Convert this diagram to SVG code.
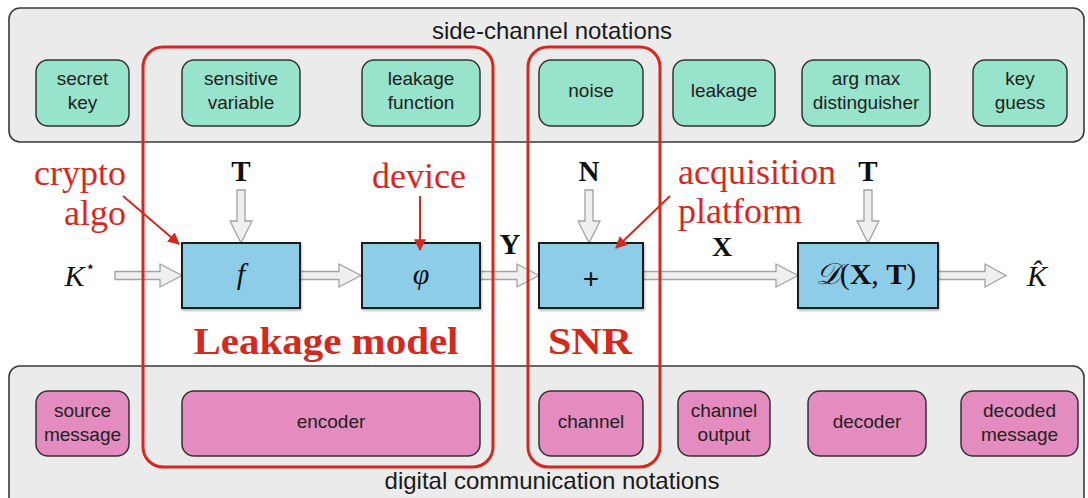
<svg xmlns="http://www.w3.org/2000/svg" width="1088" height="498" viewBox="0 0 1088 498">
<defs>
<style>
.panel{fill:#ebebeb;stroke:#3a3a3a;stroke-width:1.6}
.ptitle{font-family:"Liberation Sans",Arial,sans-serif;font-size:24px;fill:#1a1a1a;text-anchor:middle}
.green{fill:#98e3cb;stroke:#333;stroke-width:1.5}
.pink{fill:#e48bc0;stroke:#333;stroke-width:1.5}
.nt{font-family:"Liberation Sans",Arial,sans-serif;font-size:19px;fill:#222;text-anchor:middle}
.blue{fill:#8ecde8;stroke:#1e1e1e;stroke-width:2}
.harrow{fill:#efefef;stroke:#a3a3a3;stroke-width:1.3;stroke-linejoin:miter}
.math{font-family:"Liberation Serif","Times New Roman",serif;fill:#111;text-anchor:middle}
.red{fill:none;stroke:#d3291f;stroke-width:3}
.redtxt{font-family:"Liberation Serif","Times New Roman",serif;fill:#d3291f;font-size:36px}
.redline{stroke:#d3291f;stroke-width:2;fill:none}
</style>
<marker id="rh" viewBox="0 0 10 10" refX="9" refY="5" markerWidth="6" markerHeight="6" markerUnits="strokeWidth" orient="auto">
<path d="M0,0 L10,5 L0,10 Z" fill="#d3291f"/>
</marker>
<filter id="sh" x="-5%" y="-5%" width="115%" height="120%">
<feDropShadow dx="1" dy="2" stdDeviation="1.2" flood-color="#000" flood-opacity="0.25"/>
</filter>
</defs>

<!-- panels -->
<g id="panel-side-channel">
<rect class="panel" x="9" y="8" width="1075" height="134" rx="11"/>
<text class="ptitle" x="552" y="39">side-channel notations</text>
</g>
<g id="panel-digital-comm">
<rect class="panel" x="9" y="366" width="1075" height="145" rx="11"/>
<text class="ptitle" x="552" y="489">digital communication notations</text>
</g>

<!-- green nodes -->
<g id="n-secret-key"><rect class="green" x="36" y="60" width="93" height="66" rx="12"/><text class="nt" x="82.5" y="85">secret</text><text class="nt" x="82.5" y="109">key</text></g>
<g id="n-sensitive-variable"><rect class="green" x="182" y="60" width="118" height="66" rx="12"/><text class="nt" x="241" y="85">sensitive</text><text class="nt" x="241" y="109">variable</text></g>
<g id="n-leakage-function"><rect class="green" x="362" y="60" width="118" height="66" rx="12"/><text class="nt" x="421" y="85">leakage</text><text class="nt" x="421" y="109">function</text></g>
<g id="n-noise"><rect class="green" x="539" y="60" width="104" height="66" rx="12"/><text class="nt" x="591" y="97">noise</text></g>
<g id="n-leakage"><rect class="green" x="673" y="60" width="102" height="66" rx="12"/><text class="nt" x="724" y="97">leakage</text></g>
<g id="n-argmax"><rect class="green" x="802" y="60" width="128" height="66" rx="12"/><text class="nt" x="866" y="85">arg max</text><text class="nt" x="866" y="109">distinguisher</text></g>
<g id="n-key-guess"><rect class="green" x="973" y="60" width="94" height="66" rx="12"/><text class="nt" x="1020" y="85">key</text><text class="nt" x="1020" y="109">guess</text></g>

<!-- pink nodes -->
<g id="n-source-message"><rect class="pink" x="36" y="391" width="93" height="65" rx="12"/><text class="nt" x="82.5" y="417">source</text><text class="nt" x="82.5" y="441">message</text></g>
<g id="n-encoder"><rect class="pink" x="182" y="391" width="298" height="65" rx="12"/><text class="nt" x="331" y="428">encoder</text></g>
<g id="n-channel"><rect class="pink" x="539" y="391" width="104" height="65" rx="12"/><text class="nt" x="591" y="428">channel</text></g>
<g id="n-channel-output"><rect class="pink" x="678" y="391" width="92" height="65" rx="12"/><text class="nt" x="724" y="417">channel</text><text class="nt" x="724" y="441">output</text></g>
<g id="n-decoder"><rect class="pink" x="808" y="391" width="118" height="65" rx="12"/><text class="nt" x="867" y="428">decoder</text></g>
<g id="n-decoded-message"><rect class="pink" x="961" y="391" width="117" height="65" rx="12"/><text class="nt" x="1019.5" y="417">decoded</text><text class="nt" x="1019.5" y="441">message</text></g>

<!-- connectors -->
<g id="connectors">
<path class="harrow" d="M115,271.5 L160,271.5 L160,264 L182,275.5 L160,287 L160,279.5 L115,279.5 Z"/>
<path class="harrow" d="M300,271.5 L339,271.5 L339,264 L361,275.5 L339,287 L339,279.5 L300,279.5 Z"/>
<path class="harrow" d="M480,271.5 L517,271.5 L517,264 L539,275.5 L517,287 L517,279.5 L480,279.5 Z"/>
<path class="harrow" d="M643,271.5 L776,271.5 L776,264 L798,275.5 L776,287 L776,279.5 L643,279.5 Z"/>
<path class="harrow" d="M938,271.5 L985,271.5 L985,264 L1006,275.5 L985,287 L985,279.5 L938,279.5 Z"/>
<path class="harrow" d="M237,190 L237,221 L230,221 L241,243 L252,221 L245,221 L245,190 Z"/>
<path class="harrow" d="M585,190 L585,221 L578,221 L589,243 L600,221 L593,221 L593,190 Z"/>
<path class="harrow" d="M864,190 L864,221 L857,221 L868,243 L879,221 L872,221 L872,190 Z"/>
</g>

<!-- process blocks -->
<g id="b-f"><rect class="blue" x="182" y="243" width="118" height="65" filter="url(#sh)"/><text class="math" x="241" y="284" font-size="30" font-style="italic">f</text></g>
<g id="b-phi"><rect class="blue" x="362" y="243" width="118" height="65" filter="url(#sh)"/><text class="math" x="421" y="284" font-size="30" font-style="italic">φ</text></g>
<g id="b-plus"><rect class="blue" x="539" y="243" width="104" height="65" filter="url(#sh)"/><text x="591" y="288" font-family="Liberation Sans,Arial,sans-serif" font-size="28" fill="#111" text-anchor="middle">+</text></g>
<g id="b-D"><rect class="blue" x="798" y="243" width="140" height="65" filter="url(#sh)"/><text class="math" x="866" y="284" font-size="30"><tspan font-style="italic">𝒟</tspan>(<tspan font-weight="bold">X</tspan>, <tspan font-weight="bold">T</tspan>)</text></g>

<!-- math labels -->
<g id="labels">
<text class="math" x="241" y="181" font-size="29" font-weight="bold">T</text>
<text class="math" x="589" y="181" font-size="29" font-weight="bold">N</text>
<text class="math" x="868" y="181" font-size="29" font-weight="bold">T</text>
<text class="math" x="510" y="254" font-size="29" font-weight="bold">Y</text>
<text class="math" x="722" y="256" font-size="28" font-weight="bold">X</text>
<text class="math" x="80" y="286" font-size="30" font-style="italic">K<tspan font-size="17" font-style="normal" dy="-14">⋆</tspan></text>
<text class="math" x="1037" y="286" font-size="30" font-style="italic">K̂</text>
</g>

<!-- red annotations -->
<g id="red-annotations">
<rect class="red" x="143" y="47" width="350" height="420" rx="20"/>
<rect class="red" x="528" y="47" width="132" height="420" rx="20"/>
<text class="redtxt" x="126" y="185" text-anchor="end">crypto</text>
<text class="redtxt" x="126" y="225" text-anchor="end">algo</text>
<text class="redtxt" x="419" y="188" text-anchor="middle">device</text>
<text class="redtxt" x="678" y="184">acquisition</text>
<text class="redtxt" x="678" y="223">platform</text>
<line class="redline" x1="123" y1="196" x2="179" y2="244" marker-end="url(#rh)"/>
<line class="redline" x1="420" y1="196" x2="420" y2="250" marker-end="url(#rh)"/>
<line class="redline" x1="670" y1="196" x2="616" y2="248" marker-end="url(#rh)"/>
<text x="326" y="354" font-family="Liberation Serif,Times New Roman,serif" font-weight="bold" font-size="38" fill="#d3291f" text-anchor="middle" textLength="265" lengthAdjust="spacingAndGlyphs">Leakage model</text>
<text x="590" y="354" font-family="Liberation Serif,Times New Roman,serif" font-weight="bold" font-size="38" fill="#d3291f" text-anchor="middle" textLength="84" lengthAdjust="spacingAndGlyphs">SNR</text>
</g>
</svg>
